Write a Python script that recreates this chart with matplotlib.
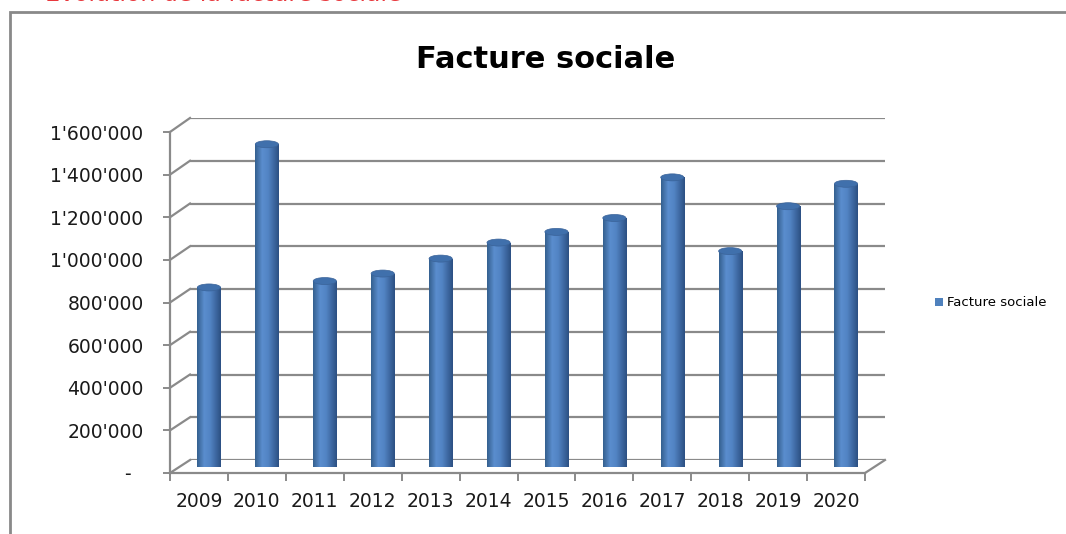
import numpy as np
import matplotlib.pyplot as plt
from matplotlib.patches import Ellipse, Rectangle
from matplotlib.lines import Line2D
from matplotlib.colors import LinearSegmentedColormap
from matplotlib.transforms import IdentityTransform

years = ['2009', '2010', '2011', '2012', '2013', '2014', '2015', '2016',
         '2017', '2018', '2019', '2020']
values = [840000, 1510000, 870000, 905000, 975000, 1050000, 1100000,
          1165000, 1355000, 1010000, 1220000, 1325000]
yticks = [0, 200000, 400000, 600000, 800000, 1000000, 1200000, 1400000, 1600000]
series_name = 'Facture sociale'

W, H = 1066, 534
grid_col = '#8a8a8a'

fig = plt.figure(figsize=(W / 100, H / 100), dpi=100)


def px_axes(left, top, right, bottom):
    return fig.add_axes([left / W, 1 - bottom / H, (right - left) / W, (bottom - top) / H])


# three planes: back wall, bar depth, front
back = px_axes(190, 118, 885, 460)
mid = px_axes(180, 125, 875, 467)
front = px_axes(170, 132, 865, 473)

x = np.arange(len(years))
for a in (back, mid, front):
    a.set_facecolor('none')
    for s in a.spines.values():
        s.set_visible(False)

# back wall gridlines
back.set_yticks(yticks)
back.set_xticks([])
back.tick_params(length=0, labelleft=False)
back.grid(axis='y', color=grid_col, lw=1.6)
back.set_xlim(-0.5, len(years) - 0.5)
back.set_ylim(0, 1600000)

# bars (cylinders)
w = 0.4
bars = mid.bar(x, values, width=w, color='#4F81BD', label=series_name, zorder=2)
cmap = LinearSegmentedColormap.from_list('cyl', [(0, '#35608F'), (0.3, '#5A8DCE'),
                                                 (0.55, '#5284C4'), (1, '#2C5083')])
grad = np.linspace(0, 1, 64).reshape(1, -1)
eh = 7 * 1600000 / 342
for xi, v, p in zip(x, values, bars.patches):
    bot = Ellipse((xi, 0), w, eh, facecolor='none', edgecolor='none')
    mid.add_patch(bot)
    for clip in (p, bot):
        im = mid.imshow(grad, extent=[xi - w / 2, xi + w / 2, -eh, v], aspect='auto',
                        cmap=cmap, zorder=2.5)
        im.set_clip_path(clip)
    mid.add_patch(Ellipse((xi, v), w, eh, facecolor='#4070AC', edgecolor='#3A6399',
                          lw=0.5, zorder=3))
mid.set_xlim(-0.5, len(years) - 0.5)
mid.set_ylim(0, 1600000)
mid.axis('off')

# front axes
front.set_xlim(-0.5, len(years) - 0.5)
front.set_ylim(0, 1600000)
front.spines['left'].set_visible(True)
front.spines['bottom'].set_visible(True)
for s in ('left', 'bottom'):
    front.spines[s].set_color(grid_col)
    front.spines[s].set_linewidth(1.6)
front.set_yticks(yticks)
front.set_yticklabels(['-  ' if v == 0 else f"{v:,.0f}".replace(',', "'") for v in yticks])
front.tick_params(axis='y', length=5, width=1.4, color=grid_col, pad=14,
                  labelsize=13.5, labelcolor='#1a1a1a')
front.set_xticks(np.arange(-0.5, len(years), 1))
front.set_xticklabels([])
front.set_xticks(x, minor=True)
front.set_xticklabels(years, minor=True)
front.tick_params(axis='x', which='major', length=6, width=1.4, color=grid_col)
front.tick_params(axis='x', which='minor', length=0, pad=14, labelsize=13.5,
                  labelcolor='#1a1a1a')

# side wall and floor diagonals
fig.canvas.draw()
ident = IdentityTransform()
for v in yticks:
    p0 = front.transData.transform((-0.5, v))
    p1 = back.transData.transform((-0.5, v))
    fig.add_artist(Line2D([p0[0], p1[0]], [p0[1], p1[1]], transform=ident,
                          color=grid_col, lw=1.6))
p0 = front.transData.transform((len(years) - 0.5, 0))
p1 = back.transData.transform((len(years) - 0.5, 0))
fig.add_artist(Line2D([p0[0], p1[0]], [p0[1], p1[1]], transform=ident,
                      color=grid_col, lw=1.6))

fig.text(546 / W, 1 - 60 / H, series_name, ha='center', va='center',
         fontsize=22, fontweight='bold', color='black')

fig.legend(handles=[bars], labels=[series_name], loc='center left',
           bbox_to_anchor=(923 / W, 1 - 303 / H), frameon=False, fontsize=9.5,
           handlelength=0.6, handleheight=0.6, handletextpad=0.3)

# outer chart frame and clipped caption above it
fig.add_artist(Rectangle((10 / W, -0.2), 1.2, 1.2 - 12 / H, transform=fig.transFigure,
                         fill=False, ec='#898989', lw=2))
fig.text(45 / W, 1 - 1 / H, 'Evolution de la facture sociale', color='#E8383D',
         fontsize=17, va='baseline')

fig.savefig('out.png', dpi=100)
